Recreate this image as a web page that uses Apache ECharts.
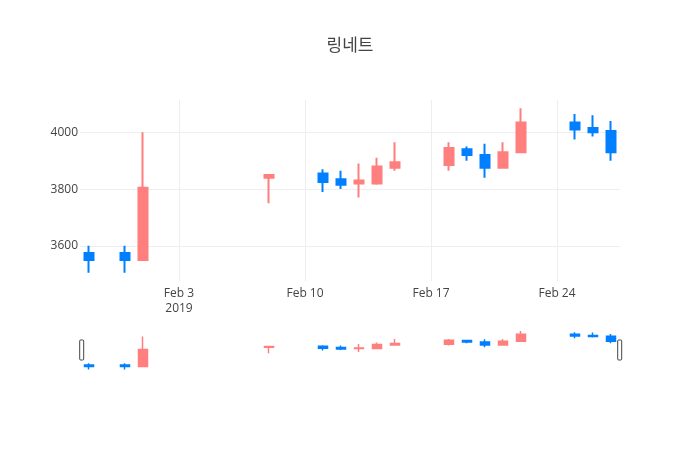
<!DOCTYPE html>
<html>
<head>
<meta charset="utf-8">
<script src="https://cdn.jsdelivr.net/npm/echarts@6/dist/echarts.min.js"></script>
<style>html,body{margin:0;padding:0;background:#fff}#c{width:700px;height:450px}</style>
</head>
<body>
<div id="c"></div>
<script>
var titleText = '링네트';
var dates = ['2019-01-29','2019-01-31','2019-02-01','2019-02-08','2019-02-11','2019-02-12','2019-02-13','2019-02-14','2019-02-15','2019-02-18','2019-02-19','2019-02-20','2019-02-21','2019-02-22','2019-02-25','2019-02-26','2019-02-27'];
var openV  = [3575,3575,3550,3840,3855,3835,3820,3820,3875,3885,3940,3920,3875,3930,4035,4015,4005];
var closeV = [3550,3550,3805,3850,3825,3815,3830,3880,3895,3945,3920,3875,3930,4035,4010,4000,3930];
var lowV   = [3505,3505,3550,3750,3790,3800,3770,3815,3865,3865,3900,3840,3875,3930,3975,3985,3900];
var highV  = [3600,3600,4000,3850,3870,3865,3890,3910,3965,3965,3950,3960,3965,4085,4065,4060,4040];
var xRange = ['2019-01-28 12:00','2019-02-27 12:00'];
var yRange = [3476, 4114];
var yTicks = [3600, 3800, 4000];
var xTickDates = ['2019-02-03','2019-02-10','2019-02-17','2019-02-24'];
var xTickLabels = ['Feb 3\n2019','Feb 10','Feb 17','Feb 24'];

var UP = '#FF7F7F', DOWN = '#007FFF';
var P = function(s){ return +echarts.time.parse(s); };
var xMin = P(xRange[0]), xMax = P(xRange[1]);
var xTickVals = xTickDates.map(P);
var ohlc = dates.map(function(d,i){ return [P(d), openV[i], closeV[i], lowV[i], highV[i]]; });

var chart = echarts.init(document.getElementById('c'), null, {renderer:'canvas'});
var FONT = '"Open Sans", "Noto Sans CJK KR", sans-serif';
chart.setOption({
  animation: false,
  backgroundColor: '#fff',
  title: {text: titleText, left: 'center', top: 33,
    textStyle: {fontFamily: FONT, fontSize: 17, fontWeight: 'normal', color: '#444'}},
  grid: [
    {left: 80, width: 540, top: 100, height: 181},
    {left: 80, width: 540, top: 329, height: 42.5}
  ],
  xAxis: [
    {type: 'value', gridIndex: 0, min: xMin, max: xMax, scale: true,
      axisLine: {show: false}, axisTick: {show: false, customValues: xTickVals},
      splitLine: {show: true, lineStyle: {color: '#eee', width: 1}},
      axisLabel: {customValues: xTickVals, color: '#444', fontFamily: FONT, fontSize: 12, margin: 5, lineHeight: 15,
        formatter: function(v){ var i = xTickVals.indexOf(v); return i >= 0 ? xTickLabels[i] : ''; }}},
    {type: 'value', gridIndex: 1, min: xMin, max: xMax, scale: true, show: false}
  ],
  yAxis: [
    {type: 'value', gridIndex: 0, min: yRange[0], max: yRange[1], scale: true,
      axisLine: {show: false}, axisTick: {show: false, customValues: yTicks},
      splitLine: {show: true, lineStyle: {color: '#eee', width: 1}},
      axisLabel: {customValues: yTicks, color: '#444', fontFamily: FONT, fontSize: 12, margin: 2,
        formatter: function(v){ return String(v); }}},
    {type: 'value', gridIndex: 1, min: yRange[0], max: yRange[1], scale: true, show: false}
  ],
  dataZoom: [{
    type: 'slider', xAxisIndex: 1, filterMode: 'none', start: 0, end: 100,
    left: 80, width: 540, top: 340, height: 20,
    showDataShadow: false, showDetail: false, brushSelect: false,
    backgroundColor: 'rgba(0,0,0,0)', borderColor: 'rgba(0,0,0,0)', fillerColor: 'rgba(0,0,0,0)',
    handleIcon: 'path://M1,0 h2 a1,1 0 0 1 1,1 v18 a1,1 0 0 1 -1,1 h-2 a1,1 0 0 1 -1,-1 v-18 a1,1 0 0 1 1,-1 z',
    handleSize: 20,
    handleStyle: {color: '#fff', borderColor: '#444', borderWidth: 1},
    moveHandleSize: 0,
    dataBackground: {lineStyle: {opacity: 0}, areaStyle: {opacity: 0}}
  }],
  series: [
    {type: 'candlestick', xAxisIndex: 0, yAxisIndex: 0, barWidth: 9,
      data: ohlc.map(function(r){ return [r[0], r[1], r[2], r[3], r[4]]; }),
      encode: {x: 0, y: [1,2,3,4]},
      itemStyle: {color: UP, color0: DOWN, borderColor: UP, borderColor0: DOWN, borderWidth: 2}},
    {type: 'candlestick', xAxisIndex: 1, yAxisIndex: 1, barWidth: 9,
      data: ohlc.map(function(r){ return [r[0], r[1], r[2], r[3], r[4]]; }),
      encode: {x: 0, y: [1,2,3,4]},
      itemStyle: {color: UP, color0: DOWN, borderColor: UP, borderColor0: DOWN, borderWidth: 1.5}}
  ]
});
</script>
</body>
</html>
